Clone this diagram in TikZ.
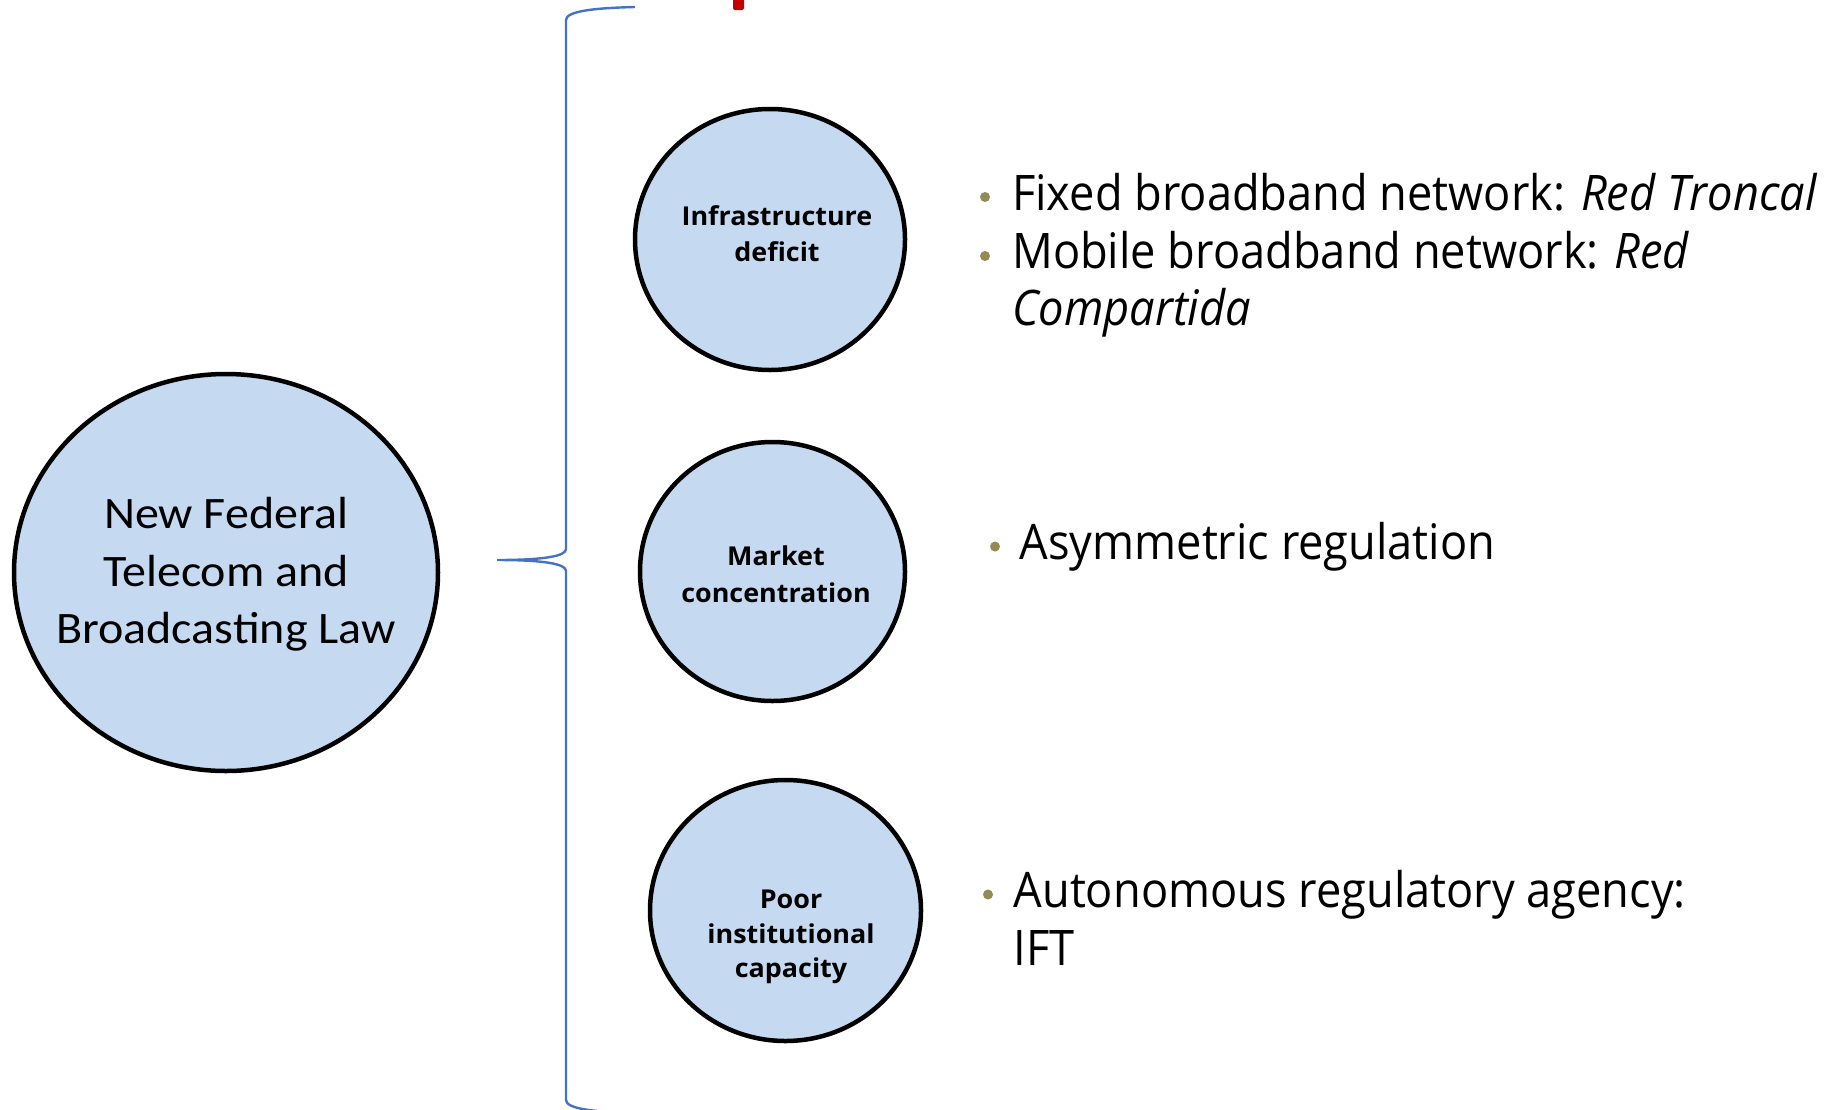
\documentclass[tikz,border=0pt]{standalone}
\usepackage{fontspec}
\setmainfont{Open Sans}
\newfontfamily\calfont{Carlito}
\usetikzlibrary{shapes.geometric}
\definecolor{circfill}{HTML}{C5D9F1}
\definecolor{bracecol}{HTML}{4472C4}
\definecolor{dotcol}{HTML}{948A54}
\definecolor{markred}{HTML}{C00000}
\newcommand{\bigsq}[1]{\scalebox{1.067}[1]{#1}}
\newcommand{\csq}[1]{\scalebox{1.035}[1]{#1}}
\newcommand{\bsq}[1]{\scalebox{0.922}[1]{#1}}
\begin{document}
\begin{tikzpicture}[x=1pt,y=-1pt,
  circ/.style={ellipse, draw=black, line width=4.5pt, fill=circfill, inner sep=0pt},
  bigtxt/.style={anchor=base, inner sep=0pt, font=\calfont\fontsize{45}{54}\selectfont},
  ctxt/.style={anchor=base, inner sep=0pt, font=\bfseries\fontsize{26}{31}\selectfont},
  btxt/.style={anchor=base west, inner sep=0pt, font=\fontsize{49}{58}\selectfont},
  bdot/.style={circle, fill=dotcol, inner sep=0pt, minimum size=10pt},
  bracestyle/.style={draw=bracecol, line width=2.4pt}
]
\useasboundingbox (0,0) rectangle (1831,1109);
% red mark at top
\fill[markred, rounded corners=2pt] (733,-6) rectangle (744,10);
% main ellipse
\node[circ, minimum width=424pt, minimum height=397pt] (law) at (226,572.5) {};
\node[bigtxt] (law1) at (226,528) {\bigsq{New Federal}};
\node[bigtxt] (law2) at (226,586) {\bigsq{Telecom and}};
\node[bigtxt] (law3) at (226,643) {\bigsq{Broadcasting Law}};
% circles
\node[circ, minimum width=270pt, minimum height=261pt] (c1) at (770,239.5) {};
\node[circ, minimum width=265pt, minimum height=259pt] (c2) at (772.5,571.5) {};
\node[circ, minimum width=271pt, minimum height=261pt] (c3) at (785.5,910.5) {};
\node[ctxt] (c1a) at (777,225) {\csq{Infrastructure}};
\node[ctxt] (c1b) at (777,261) {\csq{deficit}};
\node[ctxt] (c2a) at (776,565) {\csq{Market}};
\node[ctxt] (c2b) at (776,602) {\csq{concentration}};
\node[ctxt] (c3a) at (791,908) {\csq{Poor}};
\node[ctxt] (c3b) at (791,943) {\csq{institutional}};
\node[ctxt] (c3c) at (791,977) {\csq{capacity}};
% brace
\coordinate (bt) at (635,7);
\coordinate (bm) at (497,560);
\coordinate (bb) at (635,1113);
\draw[bracestyle] (bt) .. controls (595,8) and (566,11) .. (566,20)
  -- (566,549) .. controls (566,556) and (545,560) .. (bm)
  .. controls (545,560) and (566,564) .. (566,571)
  -- (566,1100) .. controls (566,1109) and (595,1112) .. (bb);
% bullets
\node[bdot] (d1) at (985,197) {};
\node[btxt] (t1) at (1012,210) {\bsq{Fixed broadband network: \textit{Red Troncal}}};
\node[bdot] (d2) at (985,256) {};
\node[btxt] (t2) at (1012,268) {\bsq{Mobile broadband network: \textit{Red}}};
\node[btxt] (t2b) at (1012,325) {\bsq{\textit{Compartida}}};
\node[bdot] (d3) at (995,546.5) {};
\node[btxt] (t3) at (1019.5,559.5) {\bsq{Asymmetric regulation}};
\node[bdot] (d4) at (988,894.5) {};
\node[btxt] (t4) at (1013.5,907.5) {\bsq{Autonomous regulatory agency:}};
\node[btxt] (t4b) at (1013.5,965) {\bsq{IFT}};
\end{tikzpicture}
\end{document}
